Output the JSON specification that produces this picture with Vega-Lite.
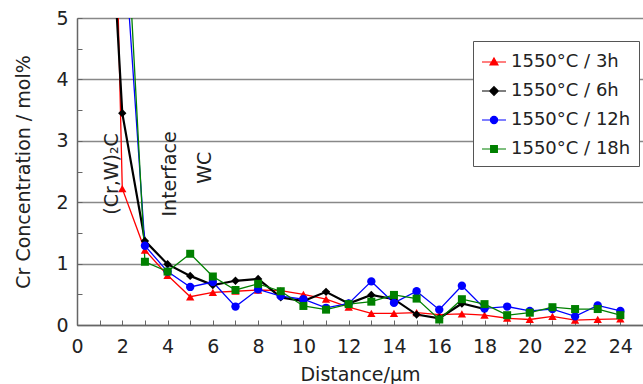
{
  "$schema": "https://vega.github.io/schema/vega-lite/v6.json",
  "width": 566,
  "height": 307,
  "autosize": {"type": "none"},
  "padding": {"left": 77, "top": 18, "right": 0, "bottom": 59},
  "background": "white",
  "config": {
    "view": {"stroke": null},
    "font": "DejaVu Sans",
    "axis": {
      "labelFont": "DejaVu Sans",
      "labelFontSize": 19,
      "labelColor": "#222",
      "titleFont": "DejaVu Sans",
      "titleFontSize": 19,
      "titleFontWeight": "normal",
      "titleColor": "#222",
      "domainColor": "#666",
      "domainWidth": 1.5,
      "tickColor": "#666",
      "tickWidth": 1,
      "tickSize": -5
    }
  },
  "datasets": {
    "conc": [
      {"x": 1, "value": 18, "series": "1550°C / 3h"},
      {"x": 2, "value": 2.22, "series": "1550°C / 3h"},
      {"x": 3, "value": 1.22, "series": "1550°C / 3h"},
      {"x": 4, "value": 0.81, "series": "1550°C / 3h"},
      {"x": 5, "value": 0.46, "series": "1550°C / 3h"},
      {"x": 6, "value": 0.53, "series": "1550°C / 3h"},
      {"x": 7, "value": 0.55, "series": "1550°C / 3h"},
      {"x": 8, "value": 0.57, "series": "1550°C / 3h"},
      {"x": 9, "value": 0.56, "series": "1550°C / 3h"},
      {"x": 10, "value": 0.5, "series": "1550°C / 3h"},
      {"x": 11, "value": 0.42, "series": "1550°C / 3h"},
      {"x": 12, "value": 0.29, "series": "1550°C / 3h"},
      {"x": 13, "value": 0.19, "series": "1550°C / 3h"},
      {"x": 14, "value": 0.19, "series": "1550°C / 3h"},
      {"x": 15, "value": 0.2, "series": "1550°C / 3h"},
      {"x": 16, "value": 0.17, "series": "1550°C / 3h"},
      {"x": 17, "value": 0.18, "series": "1550°C / 3h"},
      {"x": 18, "value": 0.16, "series": "1550°C / 3h"},
      {"x": 19, "value": 0.11, "series": "1550°C / 3h"},
      {"x": 20, "value": 0.09, "series": "1550°C / 3h"},
      {"x": 21, "value": 0.14, "series": "1550°C / 3h"},
      {"x": 22, "value": 0.08, "series": "1550°C / 3h"},
      {"x": 23, "value": 0.09, "series": "1550°C / 3h"},
      {"x": 24, "value": 0.1, "series": "1550°C / 3h"},
      {"x": 1, "value": 10, "series": "1550°C / 6h"},
      {"x": 2, "value": 3.45, "series": "1550°C / 6h"},
      {"x": 3, "value": 1.37, "series": "1550°C / 6h"},
      {"x": 4, "value": 0.99, "series": "1550°C / 6h"},
      {"x": 5, "value": 0.8, "series": "1550°C / 6h"},
      {"x": 6, "value": 0.65, "series": "1550°C / 6h"},
      {"x": 7, "value": 0.72, "series": "1550°C / 6h"},
      {"x": 8, "value": 0.75, "series": "1550°C / 6h"},
      {"x": 9, "value": 0.45, "series": "1550°C / 6h"},
      {"x": 10, "value": 0.39, "series": "1550°C / 6h"},
      {"x": 11, "value": 0.54, "series": "1550°C / 6h"},
      {"x": 12, "value": 0.35, "series": "1550°C / 6h"},
      {"x": 13, "value": 0.49, "series": "1550°C / 6h"},
      {"x": 14, "value": 0.42, "series": "1550°C / 6h"},
      {"x": 15, "value": 0.17, "series": "1550°C / 6h"},
      {"x": 16, "value": 0.11, "series": "1550°C / 6h"},
      {"x": 17, "value": 0.35, "series": "1550°C / 6h"},
      {"x": 18, "value": 0.26, "series": "1550°C / 6h"},
      {"x": 2, "value": 6.7, "series": "1550°C / 12h"},
      {"x": 3, "value": 1.29, "series": "1550°C / 12h"},
      {"x": 4, "value": 0.87, "series": "1550°C / 12h"},
      {"x": 5, "value": 0.62, "series": "1550°C / 12h"},
      {"x": 6, "value": 0.7, "series": "1550°C / 12h"},
      {"x": 7, "value": 0.3, "series": "1550°C / 12h"},
      {"x": 8, "value": 0.58, "series": "1550°C / 12h"},
      {"x": 9, "value": 0.47, "series": "1550°C / 12h"},
      {"x": 10, "value": 0.42, "series": "1550°C / 12h"},
      {"x": 11, "value": 0.28, "series": "1550°C / 12h"},
      {"x": 12, "value": 0.35, "series": "1550°C / 12h"},
      {"x": 13, "value": 0.71, "series": "1550°C / 12h"},
      {"x": 14, "value": 0.36, "series": "1550°C / 12h"},
      {"x": 15, "value": 0.55, "series": "1550°C / 12h"},
      {"x": 16, "value": 0.25, "series": "1550°C / 12h"},
      {"x": 17, "value": 0.64, "series": "1550°C / 12h"},
      {"x": 18, "value": 0.27, "series": "1550°C / 12h"},
      {"x": 19, "value": 0.3, "series": "1550°C / 12h"},
      {"x": 20, "value": 0.23, "series": "1550°C / 12h"},
      {"x": 21, "value": 0.26, "series": "1550°C / 12h"},
      {"x": 22, "value": 0.14, "series": "1550°C / 12h"},
      {"x": 23, "value": 0.32, "series": "1550°C / 12h"},
      {"x": 24, "value": 0.23, "series": "1550°C / 12h"},
      {"x": 2, "value": 7.9, "series": "1550°C / 18h"},
      {"x": 3, "value": 1.03, "series": "1550°C / 18h"},
      {"x": 4, "value": 0.87, "series": "1550°C / 18h"},
      {"x": 5, "value": 1.16, "series": "1550°C / 18h"},
      {"x": 6, "value": 0.79, "series": "1550°C / 18h"},
      {"x": 7, "value": 0.57, "series": "1550°C / 18h"},
      {"x": 8, "value": 0.67, "series": "1550°C / 18h"},
      {"x": 9, "value": 0.55, "series": "1550°C / 18h"},
      {"x": 10, "value": 0.31, "series": "1550°C / 18h"},
      {"x": 11, "value": 0.25, "series": "1550°C / 18h"},
      {"x": 12, "value": 0.34, "series": "1550°C / 18h"},
      {"x": 13, "value": 0.38, "series": "1550°C / 18h"},
      {"x": 14, "value": 0.49, "series": "1550°C / 18h"},
      {"x": 15, "value": 0.43, "series": "1550°C / 18h"},
      {"x": 16, "value": 0.09, "series": "1550°C / 18h"},
      {"x": 17, "value": 0.42, "series": "1550°C / 18h"},
      {"x": 18, "value": 0.34, "series": "1550°C / 18h"},
      {"x": 19, "value": 0.16, "series": "1550°C / 18h"},
      {"x": 20, "value": 0.2, "series": "1550°C / 18h"},
      {"x": 21, "value": 0.29, "series": "1550°C / 18h"},
      {"x": 22, "value": 0.26, "series": "1550°C / 18h"},
      {"x": 23, "value": 0.26, "series": "1550°C / 18h"},
      {"x": 24, "value": 0.16, "series": "1550°C / 18h"}
    ],
    "notes": [
      {"x": 1.54, "value": 2.46, "label": "(Cr,W)₂C"},
      {"x": 4.1, "value": 2.46, "label": "Interface"},
      {"x": 5.64, "value": 2.56, "label": "WC"}
    ]
  },
  "encoding": {
    "x": {
      "field": "x",
      "type": "quantitative",
      "scale": {"domain": [0, 25], "nice": false},
      "axis": {
        "title": "Distance/µm",
        "values": [0, 1, 2, 3, 4, 5, 6, 7, 8, 9, 10, 11, 12, 13, 14, 15, 16, 17, 18, 19, 20, 21, 22, 23, 24],
        "labelExpr": "datum.value % 2 === 0 ? toString(datum.value) : ''",
        "grid": false,
        "labelPadding": 17,
        "titlePadding": 9,
        "labelFlush": false
      }
    },
    "y": {
      "field": "value",
      "type": "quantitative",
      "scale": {"domain": [0, 5], "nice": false},
      "axis": {
        "title": "Cr Concentration / mol%",
        "values": [0, 0.5, 1, 1.5, 2, 2.5, 3, 3.5, 4, 4.5, 5],
        "labelExpr": "datum.value % 1 === 0 ? toString(datum.value) : ''",
        "grid": true,
        "gridColor": "#888",
        "gridWidth": 1.5,
        "gridOpacity": {"condition": {"test": "datum.value % 1 !== 0", "value": 0}, "value": 1},
        "labelPadding": 14,
        "titlePadding": 22,
        "labelFlush": false
      }
    }
  },
  "layer": [
    {
      "data": {"values": [{}]},
      "mark": {"type": "rule", "strokeDash": [8, 4], "color": "#444", "strokeWidth": 2},
      "encoding": {"x": {"datum": 3, "type": "quantitative"}, "y": null}
    },
    {
      "data": {"name": "conc"},
      "mark": {"type": "line", "clip": true},
      "encoding": {
        "color": {
          "field": "series",
          "type": "nominal",
          "sort": ["1550°C / 3h", "1550°C / 6h", "1550°C / 12h", "1550°C / 18h"],
          "scale": {
            "domain": ["1550°C / 3h", "1550°C / 6h", "1550°C / 12h", "1550°C / 18h"],
            "range": ["#ff0000", "#000000", "#0000ff", "#008000"]
          },
          "legend": {
            "orient": "none",
            "legendX": 396,
            "legendY": 23,
            "title": null,
            "direction": "vertical",
            "strokeColor": "#555",
            "fillColor": "white",
            "padding": 8,
            "labelFont": "DejaVu Sans",
            "labelFontSize": 18,
            "labelColor": "#222",
            "symbolSize": 576,
            "symbolStrokeWidth": 1.2,
            "rowPadding": 7,
            "labelOffset": 4,
            "encode": {
              "symbols": {
                "update": {
                  "shape": {"signal": "datum.value === '1550°C / 3h' ? 'M-1,0H1M0,-0.33L0.33,0.25L-0.33,0.25Z' : datum.value === '1550°C / 6h' ? 'M-1,0H1M0,-0.36L0.36,0L0,0.36L-0.36,0Z' : datum.value === '1550°C / 12h' ? 'M-1,0H1M0.3,0A0.3,0.3,0,1,1,-0.3,0A0.3,0.3,0,1,1,0.3,0Z' : 'M-1,0H1M-0.28,-0.28H0.28V0.28H-0.28Z'"},
                  "fill": {"scale": "color", "field": "value"},
                  "stroke": {"scale": "color", "field": "value"},
                  "opacity": {"value": 1},
                  "fillOpacity": {"value": 1}
                }
              }
            }
          }
        },
        "strokeWidth": {"condition": {"test": "datum.series === '1550°C / 6h'", "value": 2.2}, "value": 1.3},
        "order": {"field": "x", "type": "quantitative"}
      }
    },
    {
      "data": {"name": "conc"},
      "transform": [{"filter": "datum.series === '1550°C / 3h'"}],
      "mark": {"type": "point", "shape": "triangle-up", "filled": true, "opacity": 1, "clip": true, "size": 70},
      "encoding": {"color": {"field": "series", "type": "nominal"}}
    },
    {
      "data": {"name": "conc"},
      "transform": [{"filter": "datum.series === '1550°C / 6h'"}],
      "mark": {"type": "point", "shape": "diamond", "filled": true, "opacity": 1, "clip": true, "size": 70},
      "encoding": {"color": {"field": "series", "type": "nominal"}}
    },
    {
      "data": {"name": "conc"},
      "transform": [{"filter": "datum.series === '1550°C / 12h'"}],
      "mark": {"type": "point", "shape": "circle", "filled": true, "opacity": 1, "clip": true, "size": 70},
      "encoding": {"color": {"field": "series", "type": "nominal"}}
    },
    {
      "data": {"name": "conc"},
      "transform": [{"filter": "datum.series === '1550°C / 18h'"}],
      "mark": {"type": "point", "shape": "square", "filled": true, "opacity": 1, "clip": true, "size": 64},
      "encoding": {"color": {"field": "series", "type": "nominal"}}
    },
    {
      "data": {"name": "notes"},
      "mark": {"type": "text", "angle": 270, "font": "DejaVu Sans", "fontSize": 19, "color": "#222", "align": "center", "baseline": "middle"},
      "encoding": {"text": {"field": "label"}}
    }
  ]
}
